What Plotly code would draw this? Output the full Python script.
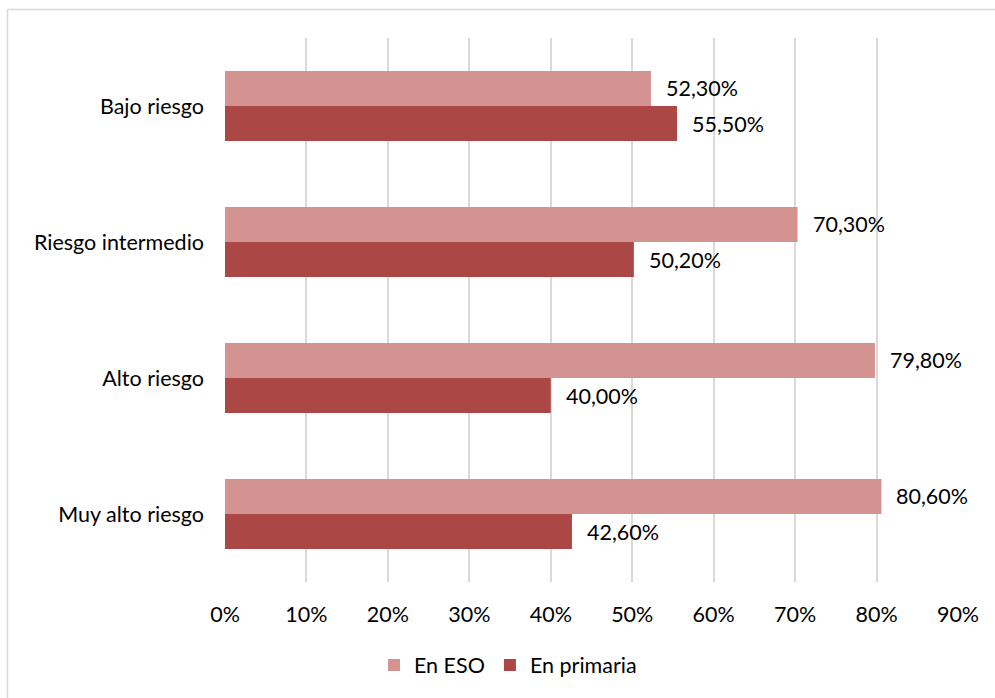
import plotly.graph_objects as go

# Risk categories (top to bottom) and the two series, in percent
categorias = ["Bajo riesgo", "Riesgo intermedio", "Alto riesgo", "Muy alto riesgo"]
en_eso = [52.3, 70.3, 79.8, 80.6]
en_primaria = [55.5, 50.2, 40.0, 42.6]

tick_vals = [0, 10, 20, 30, 40, 50, 60, 70, 80, 90]
tick_text = [f"{v}%" for v in tick_vals]

COLOR_ESO = "#D39391"
COLOR_PRIM = "#AB4745"
GRID = "#D9D9D9"
FONT = "Lato"
FSIZE = 21.5

BARGAP = 0.485
HALF = (1 - BARGAP) / 4  # centre offset of each bar inside its group


def etiqueta(v):
    return f"{v:.2f}".replace(".", ",") + "%"


fig = go.Figure()
fig.add_trace(go.Bar(
    y=categorias, x=en_eso, name="En ESO", orientation="h",
    marker=dict(color=COLOR_ESO, line=dict(width=0)),
))
fig.add_trace(go.Bar(
    y=categorias, x=en_primaria, name="En primaria", orientation="h",
    marker=dict(color=COLOR_PRIM, line=dict(width=0)),
))

# Value labels placed just to the right of each bar end
annotations = []
for serie, offset in ((en_eso, -HALF), (en_primaria, HALF)):
    for i, v in enumerate(serie):
        annotations.append(dict(
            x=v, y=i + offset, xref="x", yref="y",
            text=etiqueta(v), showarrow=False,
            xanchor="left", yanchor="middle", xshift=13,
            font=dict(family=FONT, size=FSIZE, color="#000000"),
        ))

W, H = 995, 698
ML, MR, MT, MB = 225, 37, 38, 116
pw, ph = W - ML - MR, H - MT - MB

# Thin chart-area frame (top and left edges)
fx0 = (7.5 - ML) / pw
fy0 = 1 + (MT - 9.5) / ph
shapes = [
    dict(type="line", xref="paper", yref="paper", x0=fx0, y0=fy0, x1=1.2, y1=fy0,
         line=dict(color=GRID, width=1.5)),
    dict(type="line", xref="paper", yref="paper", x0=fx0, y0=fy0, x1=fx0, y1=-0.3,
         line=dict(color=GRID, width=1.5)),
]

fig.update_layout(
    width=W, height=H,
    margin=dict(l=ML, r=MR, t=MT, b=MB),
    paper_bgcolor="white", plot_bgcolor="white",
    barmode="group", bargap=BARGAP, bargroupgap=0,
    font=dict(family=FONT, size=FSIZE, color="#000000"),
    xaxis=dict(
        range=[0, 90], tickvals=tick_vals, ticktext=tick_text,
        showgrid=True, gridcolor=GRID, gridwidth=1.5,
        zeroline=False, showline=False, ticks="",
        ticklabelstandoff=17, fixedrange=True,
    ),
    yaxis=dict(
        categoryorder="array", categoryarray=categorias,
        range=[3.5, -0.5], showgrid=False, zeroline=False,
        showline=False, ticks="", ticklabelstandoff=20,
    ),
    legend=dict(
        orientation="h", x=(508 - ML) / pw, xanchor="center",
        y=-(665 - (MT + ph)) / ph, yanchor="middle",
        font=dict(family=FONT, size=FSIZE), traceorder="normal",
        itemwidth=30,
    ),
    annotations=annotations,
    shapes=shapes,
)

fig.write_html("out.html")
